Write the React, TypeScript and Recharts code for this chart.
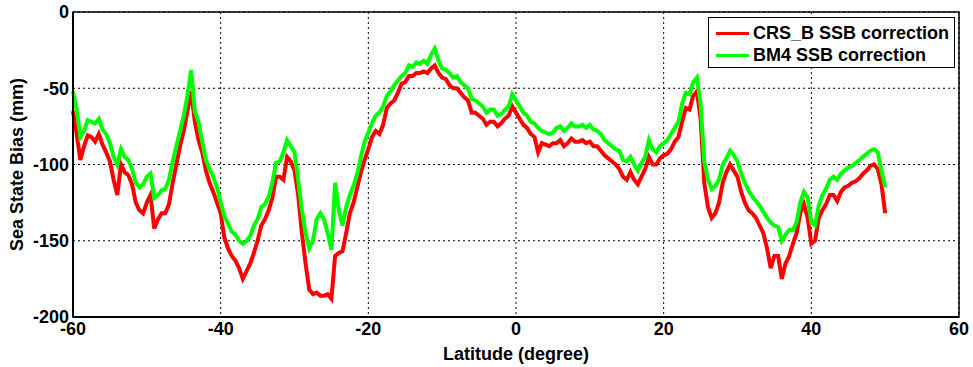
import { CartesianGrid, Line, LineChart, ReferenceArea, XAxis, YAxis } from "recharts";

// latitude grid, 0.5 degree steps from -60 to 50
const latitudes = Array.from({ length: 221 }, (_, i) => -60 + i * 0.5);

// CRS_B SSB correction (mm)
const crsB = [
  -65, -80, -97, -88, -81, -82, -85, -80, -87, -92,
  -98, -110, -120, -100, -105, -107, -113, -125, -130, -132,
  -125, -120, -142, -136, -132, -132, -126, -112, -100, -88,
  -78, -65, -52, -72, -84, -92, -104, -112, -118, -125,
  -132, -148, -155, -160, -163, -168, -175, -170, -165, -158,
  -150, -140, -136, -130, -122, -108, -108, -110, -95, -98,
  -104, -120, -145, -165, -182, -185, -184, -186, -186, -185,
  -188, -160, -158, -157, -145, -132, -125, -115, -105, -97,
  -90, -82, -78, -80, -74, -63, -60, -58, -53, -47,
  -46, -42, -42, -40, -40, -39, -40, -37, -35, -40,
  -43, -44, -48, -50, -50, -53, -56, -58, -66, -66,
  -68, -70, -74, -72, -72, -75, -73, -70, -68, -62,
  -66, -70, -74, -76, -80, -82, -92, -86, -87, -88,
  -86, -86, -84, -88, -86, -83, -85, -85, -84, -86,
  -85, -88, -88, -91, -94, -96, -98, -100, -103, -108,
  -110, -105, -110, -113, -108, -103, -95, -100, -100, -96,
  -94, -93, -90, -85, -82, -72, -63, -64, -55, -52,
  -70, -112, -128, -135, -132, -125, -112, -105, -100, -104,
  -108, -118, -125, -130, -132, -135, -140, -145, -155, -168,
  -160, -160, -175, -165, -160, -152, -145, -132, -126, -135,
  -152, -150, -135, -130, -126, -120, -120, -124, -118, -115,
  -114, -112, -111, -109, -106, -104, -101, -100, -103, -113,
  -132,
];

// BM4 SSB correction (mm)
const bm4 = [
  -52, -64, -82, -78, -71, -72, -73, -70, -77, -80,
  -86, -95, -100, -90, -95, -97, -103, -112, -115, -113,
  -108, -106, -122, -120, -117, -116, -110, -98, -88, -78,
  -68, -55, -38, -65, -72, -85, -97, -103, -108, -115,
  -125, -134, -139, -144, -146, -150, -152, -150, -147, -140,
  -136, -128, -126, -121, -112, -99, -98, -92, -84, -88,
  -92, -110, -130, -145, -155, -150, -136, -132, -136, -145,
  -156, -112, -130, -140, -128, -120, -114, -106, -95, -85,
  -79, -73, -68, -66, -62, -55, -52, -48, -45, -42,
  -40, -35, -36, -33, -34, -32, -34, -28, -24, -32,
  -37, -38, -40, -43, -42, -46, -48, -50, -57, -58,
  -60, -62, -66, -64, -64, -68, -67, -64, -62, -54,
  -58, -62, -66, -68, -72, -73, -76, -78, -79, -80,
  -79, -76, -75, -78, -76, -73, -75, -75, -74, -76,
  -74, -77, -78, -80, -84, -86, -88, -90, -91, -97,
  -98, -95, -100, -104, -99, -95, -84, -90, -92, -88,
  -86, -84, -80, -76, -72, -60, -53, -54, -46, -43,
  -60, -98, -110, -116, -114, -110, -100, -96, -91, -94,
  -98, -106, -112, -117, -121, -124, -127, -131, -135, -138,
  -140, -141, -150, -146, -143, -143, -138, -125, -118, -122,
  -138, -140, -127, -120, -116, -110, -108, -110, -106, -104,
  -102, -101, -99, -97, -95, -93, -91, -90, -92, -104,
  -115,
];

const xTicks = [-60, -40, -20, 0, 20, 40, 60];
const yTicks = [-200, -150, -100, -50, 0];

const font = "'Liberation Sans', Arial, sans-serif";

const seriesInfo = [
  { key: "crsB", name: "CRS_B SSB correction", color: "#ff0000" },
  { key: "bm4", name: "BM4 SSB correction", color: "#00ff00" },
];

function LegendBox() {
  return (
    <div
      style={{
        position: "absolute",
        left: 708,
        top: 17,
        width: 245,
        height: 49,
        border: "1px solid #000",
        background: "#fff",
        fontFamily: font,
        fontWeight: "bold",
        fontSize: 18,
        color: "#000",
      }}
    >
      {seriesInfo.map((s, i) => (
        <div key={s.key} style={{ display: "flex", alignItems: "center", height: 22, marginTop: i === 0 ? 4 : 0 }}>
          <div style={{ width: 33, height: 3, background: s.color, marginLeft: 7, marginRight: 4 }} />
          <span>{s.name}</span>
        </div>
      ))}
    </div>
  );
}

export default function App() {
  const data = latitudes.map((lat, i) => ({ lat, crsB: crsB[i], bm4: bm4[i] }));
  const tickStyle = { fill: "#000", fontSize: 18, fontWeight: "bold", fontFamily: font };
  const labelStyle = { fill: "#000", fontSize: 18, fontWeight: "bold", fontFamily: font };

  return (
    <div style={{ position: "absolute", left: 0, top: 0, width: 973, height: 367, background: "#fff" }}>
      <LineChart width={973} height={367} data={data} margin={{ top: 12, right: 14, bottom: 0, left: 0 }}>
        <CartesianGrid stroke="#000" strokeDasharray="2 3" strokeWidth={1} />
        <XAxis
          dataKey="lat"
          type="number"
          domain={[-60, 60]}
          ticks={xTicks}
          height={50}
          stroke="#000"
          strokeWidth={2}
          tickLine={false}
          tickSize={3}
          tickMargin={2}
          tick={tickStyle}
          label={{ value: "Latitude (degree)", position: "insideBottom", offset: 7, style: labelStyle }}
        />
        <YAxis
          type="number"
          domain={[-200, 0]}
          ticks={yTicks}
          width={73}
          stroke="#000"
          strokeWidth={2}
          tickLine={false}
          tickSize={4}
          tickMargin={0}
          tick={tickStyle}
          label={{
            value: "Sea State Bias (mm)",
            angle: -90,
            position: "insideLeft",
            offset: 17,
            style: { ...labelStyle, textAnchor: "middle" },
          }}
        />
        <ReferenceArea x1={-60} x2={60} y1={-200} y2={0} fill="none" stroke="#000" strokeWidth={1.5} ifOverflow="visible" />
        <Line
          type="linear"
          dataKey="crsB"
          name="CRS_B SSB correction"
          stroke="#ff0000"
          strokeWidth={4}
          dot={false}
          isAnimationActive={false}
        />
        <Line
          type="linear"
          dataKey="bm4"
          name="BM4 SSB correction"
          stroke="#00ff00"
          strokeWidth={4}
          dot={false}
          isAnimationActive={false}
        />
      </LineChart>
      <LegendBox />
    </div>
  );
}
